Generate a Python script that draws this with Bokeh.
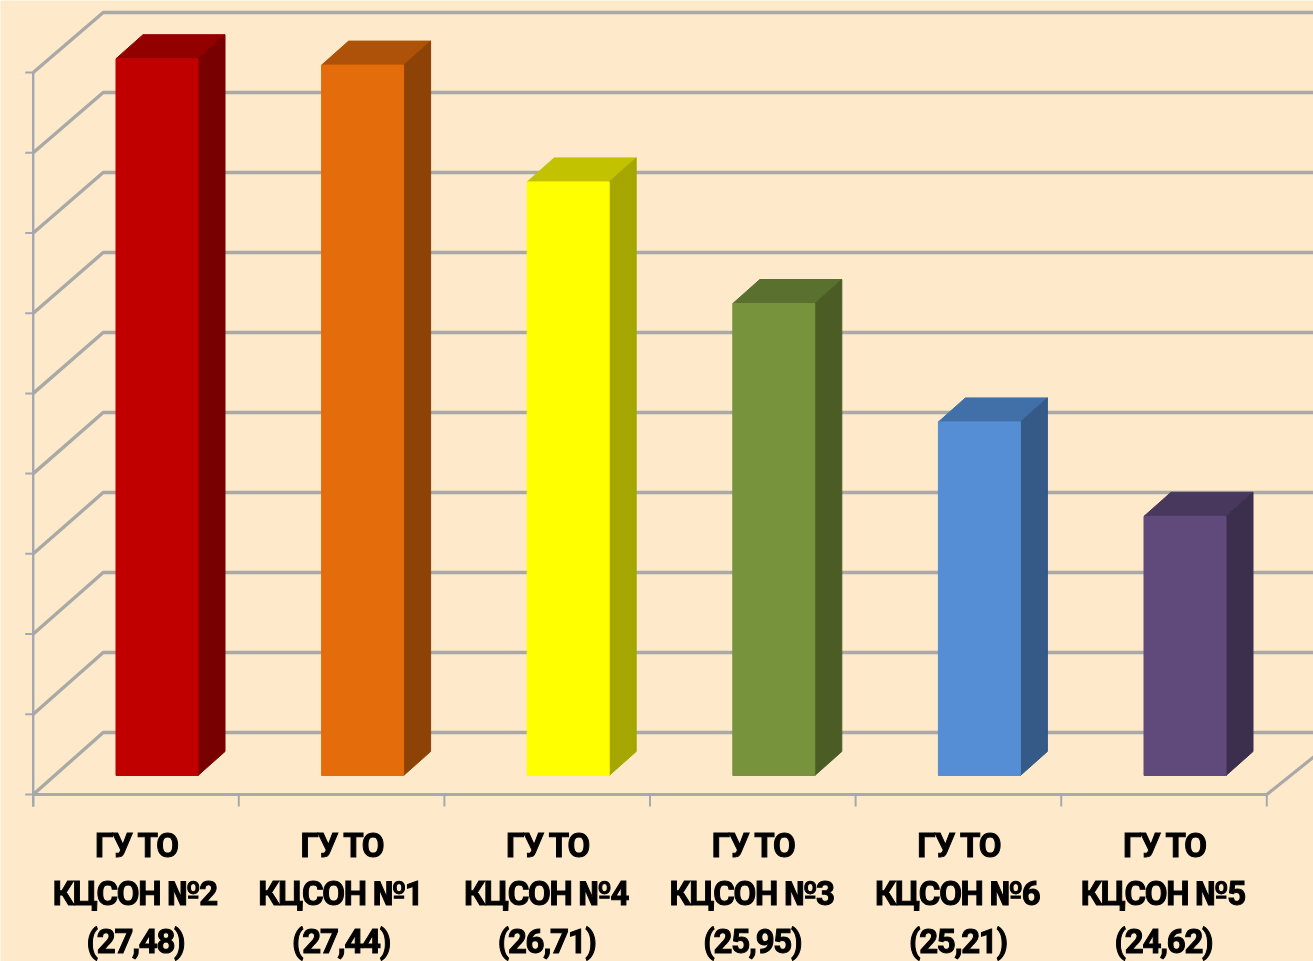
from bokeh.plotting import figure
from bokeh.embed import file_html
from bokeh.resources import INLINE
from bokeh.core.properties import value
from bokeh.models import ColumnDataSource

# ---- data ----
names = ["ГУ ТО\nКЦСОН №2", "ГУ ТО\nКЦСОН №1", "ГУ ТО\nКЦСОН №4", "ГУ ТО\nКЦСОН №3", "ГУ ТО\nКЦСОН №6", "ГУ ТО\nКЦСОН №5"]
scores = [27.48, 27.44, 26.71, 25.95, 25.21, 24.62]
labels = ["27,48", "27,44", "26,71", "25,95", "25,21", "24,62"]
front_colors = ["#C00000", "#E46C0A", "#FFFF00", "#77933C", "#558ED5", "#604A7B"]
top_colors = ["#920000", "#AD5208", "#C2C200", "#5A702E", "#4170A8", "#49385D"]
side_colors = ["#780000", "#8E4306", "#A6A600", "#4B5C25", "#355A87", "#3C2E4D"]
axis_ticks = [23.0, 23.5, 24.0, 24.5, 25.0, 25.5, 26.0, 26.5, 27.0, 27.5]

BG = "#FEE9CA"
GRID = "#A9A9A5"
AXIS = "#A3A9B0"
W, H = 1313, 961
PX_X, PX_Y = 205.6, 160.0      # pixels per category / per unit
ORIGIN_X, BASE_Y = 135.5, 775  # screen pos of category 0 / of y=23 in the bar plane

def dx(px): return px / PX_X
def dy(px): return px / PX_Y

p = figure(width=W, height=H, output_backend="svg", toolbar_location=None,
           x_range=(-ORIGIN_X / PX_X, (W - ORIGIN_X) / PX_X),
           y_range=(23 + (BASE_Y - H) / PX_Y, 23 + BASE_Y / PX_Y),
           min_border=0, background_fill_color=BG, border_fill_color=BG,
           styles={"position": "fixed", "left": "0px", "top": "0px", "letter-spacing": "-1.3px"})
p.xaxis.visible = False
p.yaxis.visible = False
p.grid.visible = False
p.outline_line_color = None

# chart geometry relative to data space
left = -0.5
right = 5.5
depth_x = dx(70)
back_up = dy(43)
front_down = dy(19)
front_k = 722 / 720
v0 = axis_ticks[0]

# wall lines
for t in axis_ticks:
    fy = v0 - front_down + (t - v0) * front_k
    by = t + back_up
    p.line([left, left + depth_x, W], [fy, by, by], line_color=GRID, line_width=3.4)

# vertical axis and its ticks
fy_all = [v0 - front_down + (t - v0) * front_k for t in axis_ticks]
p.line([left, left], [fy_all[0] - dy(12), fy_all[-1]], line_color=AXIS, line_width=2.4)
p.segment([left - dx(8)] * len(fy_all), fy_all, [left] * len(fy_all), fy_all, line_color=AXIS, line_width=2)

# floor front edge, right edge, category ticks
p.line([left, right, right + dx(50)], [fy_all[0], fy_all[0], fy_all[0] + dy(40)], line_color=GRID, line_width=3.2)
ticks = [left + i for i in range(7)]
p.segment(ticks, [fy_all[0]] * 7, ticks, [fy_all[0] - dy(12)] * 7, line_color=AXIS, line_width=2)

# bars
bar_l, bar_r = dx(21 - 41), dx(21 + 41)
dep_x, dep_y = dx(27), dy(24)
for i, v in enumerate(scores):
    xl, xr = i + bar_l, i + bar_r
    p.patch([xl, xr, xr + dep_x, xl + dep_x], [v, v, v + dep_y, v + dep_y], fill_color=top_colors[i], line_color=top_colors[i], line_width=1)
    p.patch([xr, xr + dep_x, xr + dep_x, xr], [v0, v0 + dep_y, v + dep_y, v], fill_color=side_colors[i], line_color=side_colors[i], line_width=1)
    p.quad(left=[xl], right=[xr], bottom=[v0], top=[v], fill_color=front_colors[i], line_color=front_colors[i], line_width=1)

# category labels
rows = []
for n, l in zip(names, labels):
    a, b = n.split("\n")
    rows.append((a, b, "(" + l + ")"))
label_shift = dx(4)
for k, line_y in enumerate([845, 893, 941]):
    src = ColumnDataSource(dict(x=[i + label_shift for i in range(6)], y=[23 + (BASE_Y - line_y) / PX_Y] * 6, t=[r[k] for r in rows]))
    p.text("x", "y", "t", source=src, text_font=value("Roboto"), text_font_style="bold",
           text_font_size="33px", text_color="#000000", text_outline_color="#000000",
           text_align="center", text_baseline="middle")

open("out.html", "w").write(file_html(p, INLINE))
